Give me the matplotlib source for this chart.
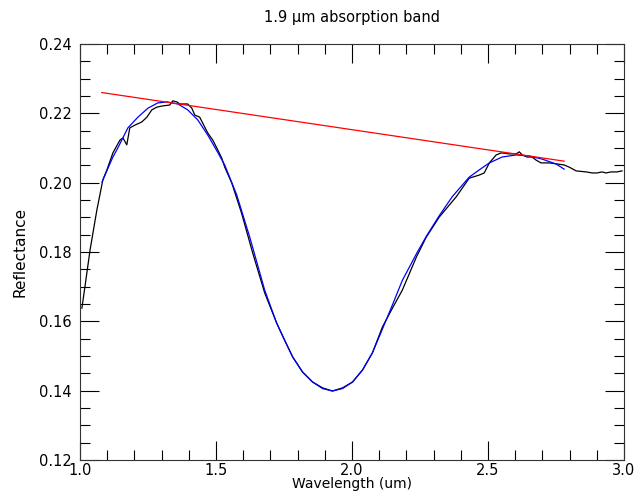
import matplotlib
matplotlib.use("Agg")
import matplotlib.pyplot as plt
from matplotlib.ticker import MultipleLocator, FormatStrFormatter

# measured spectrum (black)
wl = [1.007, 1.018, 1.037, 1.062, 1.084, 1.099, 1.121, 1.147, 1.158, 1.172,
      1.183, 1.202, 1.227, 1.246, 1.264, 1.283, 1.301, 1.330, 1.341, 1.356,
      1.367, 1.396, 1.411, 1.422, 1.440, 1.451, 1.470, 1.488, 1.503, 1.521,
      1.532, 1.558, 1.594, 1.635, 1.679, 1.723, 1.752, 1.782, 1.818, 1.855,
      1.892, 1.928, 1.965, 2.002, 2.039, 2.075, 2.112, 2.150, 2.185, 2.237,
      2.273, 2.321, 2.383, 2.431, 2.468, 2.486, 2.505, 2.530, 2.549, 2.578,
      2.604, 2.615, 2.626, 2.644, 2.662, 2.677, 2.695, 2.725, 2.754, 2.780,
      2.798, 2.824, 2.861, 2.883, 2.901, 2.919, 2.934, 2.952, 2.974, 2.993]
refl = [0.1638, 0.1699, 0.1806, 0.1921, 0.2008, 0.2037, 0.2086, 0.2123, 0.2129, 0.2109,
        0.2158, 0.2166, 0.2175, 0.2189, 0.2210, 0.2218, 0.2221, 0.2224, 0.2236, 0.2233,
        0.2227, 0.2227, 0.2215, 0.2195, 0.2189, 0.2172, 0.2143, 0.2123, 0.2100, 0.2071,
        0.2045, 0.1999, 0.1912, 0.1797, 0.1682, 0.1595, 0.1546, 0.1497, 0.1454, 0.1425,
        0.1408, 0.1399, 0.1408, 0.1425, 0.1460, 0.1509, 0.1584, 0.1640, 0.1690, 0.1786,
        0.1843, 0.1901, 0.1959, 0.2013, 0.2022, 0.2028, 0.2057, 0.2080, 0.2086, 0.2083,
        0.2083, 0.2089, 0.2080, 0.2074, 0.2074, 0.2065, 0.2057, 0.2057, 0.2054, 0.2051,
        0.2045, 0.2034, 0.2031, 0.2028, 0.2028, 0.2031, 0.2028, 0.2031, 0.2031, 0.2034]

# polynomial fit (blue)
fit_wl = [1.081, 1.103, 1.121, 1.139, 1.176, 1.213, 1.250, 1.286, 1.319, 1.360,
          1.396, 1.433, 1.470, 1.506, 1.532, 1.576, 1.624, 1.679, 1.723, 1.752,
          1.782, 1.818, 1.855, 1.892, 1.928, 1.965, 2.002, 2.039, 2.075, 2.112,
          2.150, 2.185, 2.237, 2.273, 2.321, 2.369, 2.431, 2.468, 2.505, 2.552,
          2.604, 2.651, 2.699, 2.750, 2.780]
fit_refl = [0.2002, 0.2042, 0.2074, 0.2100, 0.2158, 0.2189, 0.2215, 0.2230, 0.2233, 0.2227,
            0.2210, 0.2181, 0.2137, 0.2088, 0.2051, 0.1965, 0.1843, 0.1690, 0.1595, 0.1546,
            0.1497, 0.1454, 0.1425, 0.1406, 0.1399, 0.1406, 0.1425, 0.1460, 0.1509, 0.1578,
            0.1650, 0.1718, 0.1795, 0.1845, 0.1905, 0.1960, 0.2016, 0.2037, 0.2057, 0.2074,
            0.2080, 0.2077, 0.2068, 0.2054, 0.2039]

# continuum (red)
cont_wl = [1.08, 2.78]
cont_refl = [0.2260, 0.2062]

plt.rcParams['font.family'] = 'DejaVu Sans'

fig = plt.figure(figsize=(6.36, 4.92), dpi=100)
ax = fig.add_axes([80 / 636, 1 - 460 / 492, 544 / 636, 416 / 492])

ax.plot(wl, refl, color='black', lw=0.9)
ax.plot(fit_wl, fit_refl, color='blue', lw=0.9)
ax.plot(cont_wl, cont_refl, color='red', lw=0.9)

ax.set_xlim(1.0, 3.0)
ax.set_ylim(0.12, 0.24)
ax.xaxis.set_major_locator(MultipleLocator(0.5))
ax.xaxis.set_minor_locator(MultipleLocator(0.1))
ax.yaxis.set_major_locator(MultipleLocator(0.02))
ax.yaxis.set_minor_locator(MultipleLocator(0.005))
ax.xaxis.set_major_formatter(FormatStrFormatter('%.1f'))
ax.yaxis.set_major_formatter(FormatStrFormatter('%.2f'))
ax.tick_params(which='both', direction='in', top=True, right=True, width=0.8,
               labelsize=10.5)
ax.tick_params(axis='y', which='both', pad=6)
ax.tick_params(axis='x', which='both', pad=2)
ax.tick_params(which='major', length=14)
ax.tick_params(which='minor', length=7)
for s in ax.spines.values():
    s.set_linewidth(0.8)
    s.set_color('#333333')

ax.set_title('1.9 µm absorption band', fontsize=10.5, pad=16)
ax.set_xlabel('Wavelength (um)', fontsize=10)
# keep the label just inside the bottom edge
ax.xaxis.set_label_coords(0.5, -31 / 416, transform=ax.transAxes)
ax.xaxis.label.set_va('bottom')
ax.set_ylabel('Reflectance', fontsize=11, labelpad=8)

fig.savefig('out.png', dpi=100)
